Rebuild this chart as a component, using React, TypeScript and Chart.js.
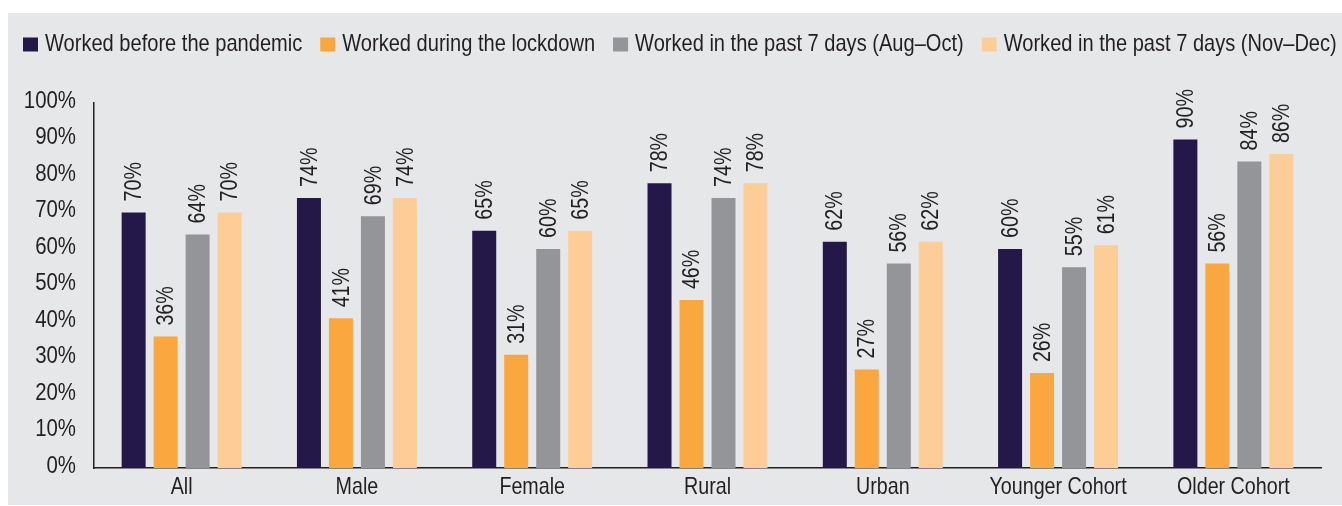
import React, { useEffect, useRef } from "react";
import { Chart, registerables } from "chart.js";

Chart.register(...registerables);

const categories = ["All", "Male", "Female", "Rural", "Urban", "Younger Cohort", "Older Cohort"];
const seriesNames = [
  "Worked before the pandemic",
  "Worked during the lockdown",
  "Worked in the past 7 days (Aug\u2013Oct)",
  "Worked in the past 7 days (Nov\u2013Dec)",
];
const beforePandemic = [70, 74, 65, 78, 62, 60, 90];
const duringLockdown = [36, 41, 31, 46, 27, 26, 56];
const augOct = [64, 69, 60, 74, 56, 55, 84];
const novDec = [70, 74, 65, 78, 62, 61, 86];
const seriesColors = ["#241848", "#f9a73e", "#939598", "#fdcd98"];
const yTicks = [0, 10, 20, 30, 40, 50, 60, 70, 80, 90, 100];

const FONT = "'Liberation Sans', Arial, sans-serif";
const TEXT = "#231f20";
const BG = "#e6e7e8";
const SQUEEZE = 0.82;
const LEGEND_SQUEEZE = 0.836;
const TICK_SQUEEZE = 0.85;

const W = 1334;
const H = 492;

function drawText(ctx: any, text: string, x: number, y: number, align: string, sq: number) {
  ctx.save();
  ctx.translate(x, y);
  ctx.scale(sq, 1);
  ctx.textAlign = align;
  ctx.fillText(text, 0, 0);
  ctx.restore();
}

const textPlugin = {
  id: "customText",
  afterDraw(chart: any) {
    const ctx = chart.ctx;
    const area = chart.chartArea;
    ctx.save();
    ctx.font = `24px ${FONT}`;
    ctx.fillStyle = TEXT;

    // bar value labels, rotated
    ctx.textBaseline = "middle";
    chart.data.datasets.forEach((ds: any, i: number) => {
      const meta = chart.getDatasetMeta(i);
      meta.data.forEach((bar: any, j: number) => {
        ctx.save();
        ctx.translate(bar.x + 1, bar.y - 11);
        ctx.rotate(-Math.PI / 2);
        ctx.scale(SQUEEZE, 1);
        ctx.textAlign = "left";
        ctx.fillText(ds.data[j] + "%", 0, 0);
        ctx.restore();
      });
    });

    // y tick labels
    const ys = chart.scales.y;
    ctx.textBaseline = "middle";
    yTicks.forEach((v) => {
      drawText(ctx, v + "%", area.left - 18, ys.getPixelForValue(v) - 2, "right", TICK_SQUEEZE);
    });

    // x tick labels
    const xs = chart.scales.x;
    ctx.textBaseline = "alphabetic";
    categories.forEach((c, i) => {
      drawText(ctx, c, xs.getPixelForValue(i), 481, "center", SQUEEZE);
    });

    // legend
    let x = 15;
    chart.data.datasets.forEach((ds: any, i: number) => {
      ctx.fillStyle = seriesColors[i];
      ctx.fillRect(x, 24.5, 15, 14);
      ctx.fillStyle = TEXT;
      const tx = x + 22;
      drawText(ctx, ds.label, tx, 38, "left", LEGEND_SQUEEZE);
      const w = ctx.measureText(ds.label).width * LEGEND_SQUEEZE;
      x = tx + w + 18;
    });

    ctx.restore();
  },
};

export default function App() {
  const ref = useRef<HTMLCanvasElement | null>(null);

  useEffect(() => {
    if (!ref.current) return;
    const allData = [beforePandemic, duringLockdown, augOct, novDec];
    const chart = new Chart(ref.current, {
      type: "bar",
      data: {
        labels: categories,
        datasets: allData.map((d, i) => ({
          label: seriesNames[i],
          data: d,
          backgroundColor: seriesColors[i],
          borderWidth: 0,
          categoryPercentage: 0.73,
          barPercentage: 0.75,
        })),
      },
      options: {
        responsive: false,
        animation: false,
        layout: { padding: { top: 90, right: 21, bottom: 0, left: 0 } },
        plugins: {
          legend: { display: false },
          tooltip: { enabled: false },
        },
        scales: {
          x: {
            grid: { display: false, drawTicks: false },
            border: { display: true, color: TEXT, width: 1.5 },
            ticks: { display: false },
            afterFit(scale: any) {
              scale.height = 37;
            },
          },
          y: {
            min: 0,
            max: 100,
            afterBuildTicks(scale: any) {
              scale.ticks = yTicks.map((v) => ({ value: v }));
            },
            grid: { display: false, drawTicks: false },
            border: { display: true, color: TEXT, width: 1.5 },
            ticks: { display: false },
            afterFit(scale: any) {
              scale.width = 86;
            },
          },
        },
      },
      plugins: [textPlugin],
    });
    return () => chart.destroy();
  }, []);

  return (
    <div
      style={{
        position: "absolute",
        left: 8,
        top: 13,
        width: W,
        height: H,
        background: BG,
      }}
    >
      <canvas ref={ref} width={W} height={H} style={{ position: "absolute", left: 0, top: 0 }} />
    </div>
  );
}
